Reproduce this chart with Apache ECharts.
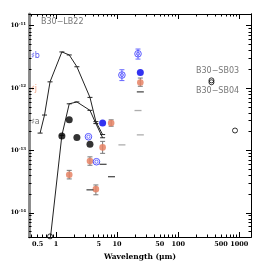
<!DOCTYPE html>
<html><head><meta charset="utf-8">
<script src="https://cdn.jsdelivr.net/npm/echarts@6/dist/echarts.min.js"></script>
<style>html,body{margin:0;padding:0;background:#fff}#c{width:266px;height:266px}</style>
</head><body><div id="c"></div>
<script>
// wavelengths in micron, fluxes lambda*F_lambda in erg/s/cm2
const modelUpperWl = [0.55, 0.65, 0.8, 1.25, 1.65, 2.2, 3.6, 4.5, 5.8];
const modelUpperF  = [1.9e-13, 3.7e-13, 1.26e-12, 3.8e-12, 3.4e-12, 2.2e-12, 7.1e-13, 2.9e-13, 1.8e-13];
const modelLowerWl = [0.8, 1.25, 1.65, 2.2, 3.6, 4.5, 5.8];
const modelLowerF  = [3.5e-15, 1.75e-13, 5.6e-13, 6.0e-13, 4.4e-13, 2.7e-13, 1.6e-13];
const blackWl = [1.25, 1.65, 2.2, 3.6];
const blackF  = [1.71e-13, 3.10e-13, 1.62e-13, 1.26e-13];
const blueWl = [5.8, 24];
const blueF  = [2.75e-13, 1.78e-12];
const salmonWl = [1.65, 3.6, 4.5, 5.8, 8.0, 24];
const salmonF  = [4.07e-14, 6.76e-14, 2.4e-14, 1.12e-13, 2.75e-13, 1.23e-12];
const salmonLo = [3.5e-14, 5.8e-14, 1.95e-14, 0.90e-13, 2.45e-13, 1.07e-12];
const salmonHi = [4.8e-14, 7.9e-14, 2.8e-14, 1.40e-13, 3.1e-13, 1.45e-12];
const wiseWl = [3.4, 4.6, 12, 22];
const wiseF  = [1.66e-13, 6.6e-14, 1.62e-12, 3.55e-12];
const wiseLo = [1.66e-13, 6.6e-14, 1.32e-12, 2.92e-12];
const wiseHi = [1.66e-13, 6.6e-14, 1.97e-12, 4.23e-12];
const darkDashWl = [3.6, 5.9, 8.1, 24];
const darkDashF  = [2.34e-14, 6.0e-14, 3.8e-14, 8.7e-13];
const grayDashWl = [12, 22, 24];
const grayDashF  = [1.23e-13, 4.37e-13, 1.78e-13];
const openWl = [350, 350, 850, 0.8];
const openF  = [1.33e-12, 1.24e-12, 2.09e-13, 4.2e-15];
const xTickLabels = [0.5, 1, 5, 10, 50, 100, 500, 1000];
const yTickLabels = [-11, -12, -13, -14];

const L = Math.log10;
const pts = (w, f) => w.map((v, i) => [L(v), L(f[i])]);
const XMIN = -0.441, XMAX = 3.191, YMIN = -14.387, YMAX = -10.812;

const xMajor = [0, 1, 2, 3];
const xMinor = [];
for (let d = -1; d <= 3; d++) for (let k = 2; k <= 9; k++) { const v = d + L(k); if (v > XMIN && v < XMAX) xMinor.push(v); }
const yMajor = [-11, -12, -13, -14];
const yMinor = [];
for (let d = -15; d <= -11; d++) for (let k = 2; k <= 9; k++) { const v = d + L(k); if (v > YMIN && v < YMAX) yMinor.push(v); }

const serif = 'DejaVu Serif';
function xax(pos, ticks, len, withLabel, lineColor) {
  return {
    type: 'value', position: pos, min: XMIN, max: XMAX, splitLine: {show: false},
    axisLine: {show: true, onZero: false, lineStyle: {color: lineColor || '#000', width: 1}},
    axisTick: {show: true, inside: true, length: len, customValues: ticks, lineStyle: {color: '#000', width: 1}},
    axisLabel: withLabel ? {show: true, customValues: xTickLabels.map(L), margin: 4, fontFamily: serif, fontWeight: 'bold', fontSize: 6.5, color: '#000',
      formatter: v => { const r = Math.pow(10, v); return r < 1 ? r.toFixed(1) : String(Math.round(r)); }} : {show: false}
  };
}
function yax(pos, ticks, len, withLabel, lineColor, lw) {
  return {
    type: 'value', position: pos, min: YMIN, max: YMAX, splitLine: {show: false},
    axisLine: {show: true, onZero: false, lineStyle: {color: lineColor || '#000', width: lw || 1}},
    axisTick: {show: true, inside: true, length: len, customValues: ticks, lineStyle: {color: '#000', width: 1}},
    axisLabel: withLabel ? {show: true, customValues: yTickLabels, margin: 3, fontFamily: serif, fontWeight: 'bold', fontSize: 6, color: '#000',
      formatter: v => '10{s|' + Math.round(v) + '}', rich: {s: {fontSize: 4, fontFamily: serif, fontWeight: 'bold', verticalAlign: 'top', padding: [0,0,4,0]}}} : {show: false}
  };
}

const xAxis = [xax('bottom', xMajor, 5, true), xax('bottom', xMinor, 2.5, false), xax('top', xMajor, 5, false), xax('top', xMinor, 2.5, false)];
xAxis[0].name = 'Wavelength (μm)';
xAxis[0].nameLocation = 'middle';
xAxis[0].nameGap = 15;
xAxis[0].nameTextStyle = {fontFamily: serif, fontWeight: 'bold', fontSize: 7.5, color: '#000'};
const yAxis = [yax('left', yMajor, 5, true, '#888', 2.5), yax('left', yMinor, 2.5, false, '#888', 2.5), yax('right', yMajor, 5, false), yax('right', yMinor, 2.5, false)];
yAxis[0].name = 'λ Fλ (erg/s/cm2)';
yAxis[0].nameLocation = 'middle';
yAxis[0].nameGap = 18;
yAxis[0].nameTextStyle = {fontFamily: serif, fontWeight: 'bold', fontSize: 7.5, color: '#000'};

function errSeries(w, f, lo, hi, color, barColor, open) {
  return {
    type: 'custom', xAxisIndex: 0, yAxisIndex: 0, z: 5,
    data: w.map((v, i) => [L(v), L(f[i]), L(lo[i]), L(hi[i])]),
    renderItem: (params, api) => {
      const p = api.coord([api.value(0), api.value(1)]);
      const pl = api.coord([api.value(0), api.value(2)]);
      const ph = api.coord([api.value(0), api.value(3)]);
      const ch = [];
      if (Math.abs(pl[1] - ph[1]) > 1) {
        ch.push({type: 'line', shape: {x1: p[0], y1: pl[1], x2: p[0], y2: ph[1]}, style: {stroke: barColor, lineWidth: 1}});
        ch.push({type: 'line', shape: {x1: p[0] - 2.5, y1: pl[1], x2: p[0] + 2.5, y2: pl[1]}, style: {stroke: barColor, lineWidth: 1}});
        ch.push({type: 'line', shape: {x1: p[0] - 2.5, y1: ph[1], x2: p[0] + 2.5, y2: ph[1]}, style: {stroke: barColor, lineWidth: 1}});
      }
      if (open) {
        ch.push({type: 'circle', shape: {cx: p[0], cy: p[1], r: 3.3}, style: {fill: 'none', stroke: color, lineWidth: 1}});
        ch.push({type: 'circle', shape: {cx: p[0], cy: p[1], r: 1.6}, style: {fill: 'none', stroke: color, lineWidth: 0.8}});
      } else {
        ch.push({type: 'circle', shape: {cx: p[0], cy: p[1], r: 3.3}, style: {fill: color, stroke: 'none'}});
      }
      return {type: 'group', children: ch};
    }
  };
}

const option = {
  animation: false,
  grid: {left: 29, right: 15, top: 14, bottom: 29, containLabel: false, outerBoundsMode: 'none'},
  xAxis, yAxis,
  graphic: [
    {type: 'text', left: 41, top: 18, style: {text: 'B30−LB22', fontFamily: 'DejaVu Sans', fontSize: 8, fill: '#777'}},
    {type: 'text', left: 31, top: 52, style: {text: '♯b', fontFamily: 'DejaVu Sans', fontSize: 8, fill: '#5555ee'}},
    {type: 'text', left: 31, top: 85, style: {text: '♯j', fontFamily: 'DejaVu Sans', fontSize: 8, fill: '#eea080'}},
    {type: 'text', left: 31, top: 118, style: {text: '♯a', fontFamily: 'DejaVu Sans', fontSize: 8, fill: '#777'}},
    {type: 'text', left: 196, top: 67, style: {text: 'B30−SB03', fontFamily: 'DejaVu Sans', fontSize: 8, fill: '#777'}},
    {type: 'text', left: 196, top: 87, style: {text: 'B30−SB04', fontFamily: 'DejaVu Sans', fontSize: 8, fill: '#777'}}
  ],
  series: [
    {type: 'line', data: pts(modelUpperWl, modelUpperF), symbol: 'rect', symbolSize: [5, 1], showSymbol: true,
     lineStyle: {color: '#222', width: 1}, itemStyle: {color: '#222'}, z: 2},
    {type: 'line', data: pts(modelLowerWl, modelLowerF), symbol: 'rect', symbolSize: [5, 1], showSymbol: true,
     lineStyle: {color: '#222', width: 1}, itemStyle: {color: '#222'}, z: 2},
    {type: 'scatter', data: pts(blackWl, blackF), symbol: 'circle', symbolSize: 7, itemStyle: {color: '#000'}, z: 4},
    {type: 'scatter', data: pts(blueWl, blueF), symbol: 'circle', symbolSize: 7, itemStyle: {color: '#0000ee'}, z: 4},
    errSeries(salmonWl, salmonF, salmonLo, salmonHi, 'rgba(230,130,100,0.85)', '#777', false),
    errSeries(wiseWl, wiseF, wiseLo, wiseHi, '#5555ff', '#6666ff', true),
    {type: 'scatter', data: pts(darkDashWl, darkDashF), symbol: 'rect', symbolSize: [7, 1.3], itemStyle: {color: '#222'}, z: 6},
    {type: 'scatter', data: pts(grayDashWl, grayDashF), symbol: 'rect', symbolSize: [7, 1.3], itemStyle: {color: '#999'}, z: 6},
    {type: 'scatter', data: pts(openWl, openF), symbol: 'circle', symbolSize: 5, itemStyle: {color: 'none', borderColor: '#000', borderWidth: 1}, z: 6}
  ]
};
const chart = echarts.init(document.getElementById('c'), null, {renderer: 'canvas'});
chart.setOption(option);
</script></body></html>
